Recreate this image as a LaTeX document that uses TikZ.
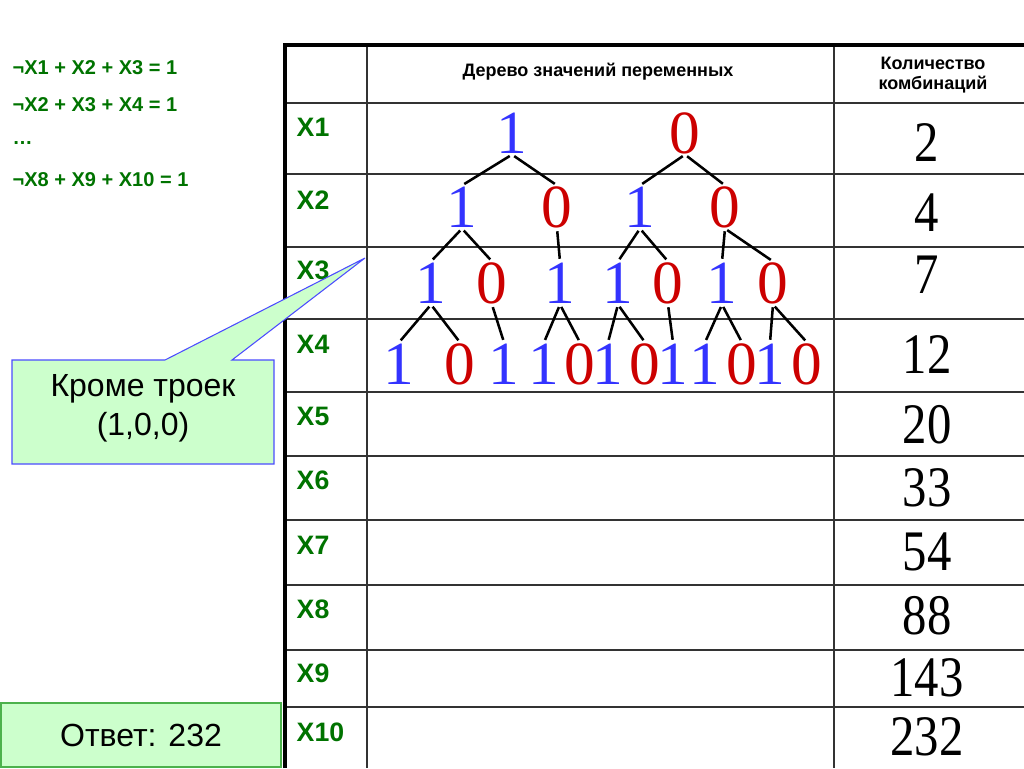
\documentclass[tikz,border=0pt]{standalone}
\usepackage{fontspec}
\setmainfont{Liberation Serif}
\newfontfamily\arialf{Liberation Sans}
\begin{document}
\begin{tikzpicture}[x=0.75pt,y=-0.75pt,
  dig/.style={font=\fontsize{46}{46}\selectfont, inner sep=0pt, minimum height=32pt},
  one/.style={dig, text=blue!80!white},
  zero/.style={dig, text=red!80!black},
  edge/.style={line width=1.9pt, shorten <=2pt, shorten >=2pt},
  xlab/.style={anchor=west, font=\arialf\bfseries\fontsize{20}{20}\selectfont, text=green!45!black},
  eq/.style={anchor=west, font=\arialf\bfseries\fontsize{15}{15}\selectfont, text=green!45!black},
  cnt/.style={font=\fontsize{43}{43}\selectfont, inner sep=0pt},
  grid/.style={line width=1.3pt, draw=black!80},
  hdr/.style={font=\arialf\bfseries\fontsize{13.5}{15}\selectfont, align=center}]
\useasboundingbox (0,0) rectangle (1024,768);
% table
\foreach \y in {103,174,247,319,392,456,520,585,650,707} \draw[grid] (285,\y) -- (1024,\y);
\draw[grid] (367,45) -- (367,768);
\draw[grid] (834,45) -- (834,768);
\draw[line width=2.5pt] (285,768) -- (285,45) -- (1024,45);
\node[hdr] (h1) at (598,72) {Дерево значений переменных};
\node[hdr] (h2) at (933,75) {Количество\\комбинаций};
% row labels
\foreach \t/\y in {X1/127,X2/200,X3/270,X4/344,X5/416,X6/480,X7/545,X8/609,X9/673,X10/732}
  \node[xlab] (l\t) at (292,\y) {\t};
% counts
\foreach \n/\v/\y in {a/2/143,b/4/213,c/7/275,d/12/355,e/20/425,f/33/488,g/54/552,h/88/616,i/143/678,j/232/737}
  \node[cnt] (c\n) at (927,\y) {\scalebox{0.85}[1]{\v}};
% equations
\node[eq] (e1) at (8,68) {¬X1 + X2 + X3 = 1};
\node[eq] (e2) at (8,105) {¬X2 + X3 + X4 = 1};
\node[eq] (e3) at (8,143) {…};
\node[eq] (e4) at (8,180) {¬X8 + X9 + X10 = 1};
% tree
\node[one] (a1) at (512,133) {1};
\node[zero] (a0) at (685,133) {0};
\node[one] (b1) at (462,207) {1};
\node[zero] (b2) at (557,207) {0};
\node[one] (b3) at (640,207) {1};
\node[zero] (b4) at (725,207) {0};
\node[one] (c1) at (431,283) {1};
\node[zero] (c2) at (492,283) {0};
\node[one] (c3) at (560,283) {1};
\node[one] (c4) at (618,283) {1};
\node[zero] (c5) at (668,283) {0};
\node[one] (c6) at (722,283) {1};
\node[zero] (c7) at (773,283) {0};
\node[one] (d1) at (399,364) {1};
\node[zero] (d2) at (460,364) {0};
\node[one] (d3) at (504,364) {1};
\node[one] (d4) at (544,364) {1};
\node[zero] (d5) at (580,364) {0};
\node[one] (d6) at (608,364) {1};
\node[zero] (d7) at (645,364) {0};
\node[one] (d8) at (673,364) {1};
\node[one] (d9) at (705,364) {1};
\node[zero] (d10) at (742,364) {0};
\node[one] (d11) at (770,364) {1};
\node[zero] (d12) at (807,364) {0};
\foreach \p/\c in {a1/b1,a1/b2,a0/b3,a0/b4,b1/c1,b1/c2,b2/c3,b3/c4,b3/c5,b4/c6,b4/c7,
  c1/d1,c1/d2,c2/d3,c3/d4,c3/d5,c4/d6,c4/d7,c5/d8,c6/d9,c6/d10,c7/d11,c7/d12}
  \draw[edge] (\p.south) -- (\c.north);
% callout
\coordinate (tip) at (365,258);
\draw[draw=blue!70, fill=green!20, line width=0.8pt] (12,360) -- (165,360) -- (tip) -- (232,360) -- (274,360) -- (274,464) -- (12,464) -- cycle;
\node[font=\arialf\fontsize{24}{29}\selectfont, align=center] (cal) at (143,408) {Кроме троек\\(1,0,0)};
% answer
\node[draw=green!40!gray, fill=green!20, line width=0.8pt, minimum width=210pt, minimum height=48pt, inner sep=0pt, font=\arialf\fontsize{24}{28}\selectfont] (ans) at (141,735) {Ответ: 232};
\end{tikzpicture}
\end{document}
